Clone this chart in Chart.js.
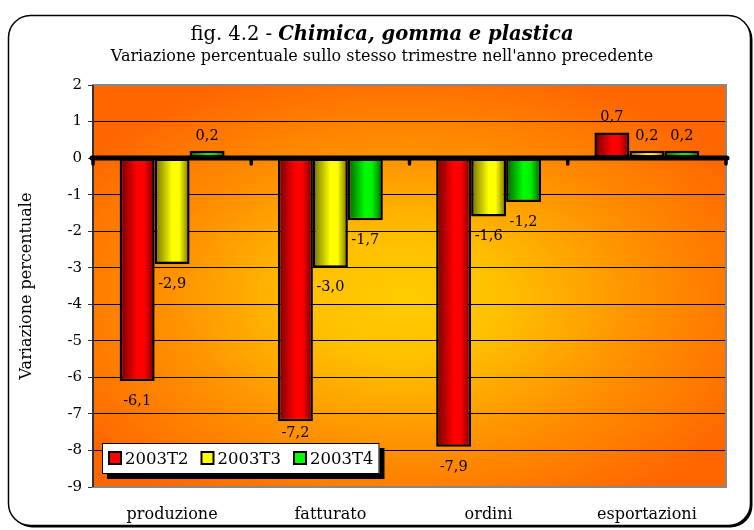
<!DOCTYPE html>
<html lang="it">
<head>
  <meta charset="UTF-8">
  <title>fig. 4.2 - Chimica, gomma e plastica</title>
  <script src="https://cdn.jsdelivr.net/npm/chart.js"></script>
  <style>
    body { margin: 0; background: #fff; }
    #wrap { width: 754px; height: 530px; }
  </style>
</head>
<body>
  <div id="wrap"><canvas id="chart" width="754" height="530"></canvas></div>

  <script>
    var categories = ['produzione', 'fatturato', 'ordini', 'esportazioni'];
    var seriesNames = ['2003T2', '2003T3', '2003T4'];
    var t2 = [-6.1, -7.2, -7.9, 0.7];
    var t3 = [-2.9, -3.0, -1.6, 0.2];
    var t4 = [0.2, -1.7, -1.2, 0.2];
    var yMin = -9, yMax = 2;

    var titleMain = 'fig. 4.2 - ';
    var titleBold = 'Chimica, gomma e plastica';
    var subtitle = "Variazione percentuale sullo stesso trimestre nell'anno precedente";
    var yTitle = 'Variazione percentuale';

    var serif = "'DejaVu Serif', 'Liberation Serif', serif";
    var catPct = 0.663;

    // dark edge -> bright -> dark edge, like the excel cylinder shading
    var shades = [
      { dark: '#700000', light: '#ff0000', mid: '#ff0000' },
      { dark: '#6e6e00', light: '#ffff00', mid: '#ffff00' },
      { dark: '#006000', light: '#00ff00', mid: '#00f000' }
    ];
    var solid = ['#ff0000', '#ffff00', '#00ff00'];

    function barFill(c) {
      var chart = c.chart;
      var sh = shades[c.datasetIndex];
      if (!chart.chartArea || c.dataIndex === undefined) return sh.light;
      var x = chart.scales.x;
      var cw = (x.right - x.left) / categories.length;
      var bw = cw * catPct / 3;
      var left = x.getPixelForValue(c.dataIndex) - cw * catPct / 2 + c.datasetIndex * bw;
      var g = chart.ctx.createLinearGradient(left, 0, left + bw, 0);
      g.addColorStop(0, sh.dark);
      g.addColorStop(0.5, sh.light);
      g.addColorStop(0.7, sh.mid);
      g.addColorStop(1, sh.dark);
      return g;
    }

    function fmt(v) {
      return v.toFixed(1).replace('.', ',');
    }

    var decor = {
      id: 'decor',
      beforeDraw: function (chart) {
        var ctx = chart.ctx, a = chart.chartArea;
        ctx.save();
        ctx.fillStyle = '#fff';
        ctx.fillRect(0, 0, chart.width, chart.height);

        // outer rounded frame with a small shadow bottom-right
        ctx.beginPath();
        ctx.roundRect(10.5, 17.5, 742, 510, 22);
        ctx.fillStyle = '#000';
        ctx.fill();
        ctx.beginPath();
        ctx.roundRect(8.5, 15.5, 742, 510, 22);
        ctx.fillStyle = '#fff';
        ctx.fill();
        ctx.lineWidth = 1.5;
        ctx.strokeStyle = '#000';
        ctx.stroke();

        // titles
        ctx.fillStyle = '#000';
        ctx.textBaseline = 'alphabetic';
        ctx.font = '19.5px ' + serif;
        var w1 = ctx.measureText(titleMain).width;
        ctx.font = 'italic bold 19.5px ' + serif;
        var w2 = ctx.measureText(titleBold).width;
        var tx = 382 - (w1 + w2) / 2;
        ctx.textAlign = 'left';
        ctx.font = '19.5px ' + serif;
        ctx.fillText(titleMain, tx, 40);
        ctx.font = 'italic bold 19.5px ' + serif;
        ctx.fillText(titleBold, tx + w1, 40);
        ctx.font = '16px ' + serif;
        ctx.textAlign = 'center';
        ctx.fillText(subtitle, 382, 61);

        // plot background
        var cx = 405, cy = 300, rx = 390, ry = 240;
        ctx.beginPath();
        ctx.rect(a.left, a.top, a.right - a.left, a.bottom - a.top);
        ctx.clip();
        ctx.translate(cx, cy);
        ctx.scale(1, ry / rx);
        var g = ctx.createRadialGradient(0, 0, 0, 0, 0, rx);
        g.addColorStop(0, '#ffcc00');
        g.addColorStop(0.25, '#ffc000');
        g.addColorStop(0.6, '#ff9200');
        g.addColorStop(1, '#ff6600');
        ctx.fillStyle = g;
        ctx.fillRect(-rx * 2, -rx * 2, rx * 4, rx * 4);
        ctx.restore();
      },
      afterDatasetsDraw: function (chart) {
        var ctx = chart.ctx, a = chart.chartArea;
        var ys = chart.scales.y;
        var y0 = ys.getPixelForValue(0);
        ctx.save();

        // frame
        ctx.strokeStyle = '#888';
        ctx.lineWidth = 2;
        ctx.strokeRect(a.left, a.top, a.right - a.left, a.bottom - a.top);
        ctx.strokeStyle = '#333';
        ctx.beginPath();
        ctx.moveTo(a.left, a.top);
        ctx.lineTo(a.left, a.bottom);
        ctx.stroke();

        // thick zero axis with category ticks
        ctx.strokeStyle = '#000';
        ctx.lineCap = 'round';
        ctx.lineWidth = 5;
        ctx.beginPath();
        ctx.moveTo(a.left - 1, y0);
        ctx.lineTo(a.right + 1, y0);
        ctx.stroke();
        ctx.lineWidth = 3.5;
        var cw = (a.right - a.left) / categories.length;
        for (var i = 0; i <= categories.length; i++) {
          var tx = a.left + i * cw;
          ctx.beginPath();
          ctx.moveTo(tx, y0);
          ctx.lineTo(tx, y0 + 6);
          ctx.stroke();
        }

        // legend box geometry (inside plot area, bottom left)
        var lx = a.left + 9, ly = a.bottom - 44, lh = 31;
        ctx.font = '16.5px ' + serif;
        var items = [], w = 6;
        seriesNames.forEach(function (n) {
          var tw = ctx.measureText(n).width;
          items.push(tw);
          w += 13 + 4 + tw + 12;
        });
        w -= 6;

        // value labels, nudged up if they would sit on the legend
        ctx.fillStyle = '#000';
        ctx.font = '14.5px ' + serif;
        ctx.textAlign = 'center';
        ctx.textBaseline = 'middle';
        chart.data.datasets.forEach(function (ds, di) {
          chart.getDatasetMeta(di).data.forEach(function (bar, j) {
            var v = ds.data[j];
            var ly2 = v >= 0 ? bar.y - 15 : bar.y + 20;
            var half = ctx.measureText(fmt(v)).width / 2;
            if (bar.x + half > lx && bar.x - half < lx + w + 5 && ly2 + 8 > ly) {
              ly2 = ly - 10;
            }
            ctx.fillText(fmt(v), bar.x, ly2);
          });
        });

        // legend
        ctx.font = '16.5px ' + serif;
        ctx.fillStyle = '#000';
        ctx.fillRect(lx + 5, ly + 5, w, lh);
        ctx.fillStyle = '#fff';
        ctx.fillRect(lx, ly, w, lh);
        ctx.lineWidth = 1;
        ctx.lineCap = 'butt';
        ctx.strokeStyle = '#000';
        ctx.strokeRect(lx + 0.5, ly + 0.5, w - 1, lh - 1);
        var px = lx + 7;
        ctx.textAlign = 'left';
        seriesNames.forEach(function (n, k) {
          ctx.fillStyle = solid[k];
          ctx.fillRect(px, ly + 9, 12, 12);
          ctx.lineWidth = 2;
          ctx.strokeRect(px, ly + 9, 12, 12);
          ctx.fillStyle = '#000';
          ctx.fillText(n, px + 16, ly + lh / 2 + 1);
          px += 13 + 4 + items[k] + 12;
        });
        ctx.restore();
      }
    };

    var ctx = document.getElementById('chart').getContext('2d');
    var chart = new Chart(ctx, {
      type: 'bar',
      data: {
        labels: categories,
        datasets: [t2, t3, t4].map(function (d, i) {
          return {
            label: seriesNames[i],
            data: d,
            backgroundColor: barFill,
            borderColor: '#000',
            borderWidth: 2.5,
            borderSkipped: false,
            categoryPercentage: catPct,
            barPercentage: 1
          };
        })
      },
      options: {
        responsive: false,
        animation: false,
        layout: { padding: { top: 85, right: 28, bottom: 0, left: 0 } },
        plugins: {
          legend: { display: false },
          title: { display: false },
          tooltip: { enabled: false }
        },
        scales: {
          x: {
            grid: { display: false },
            border: { display: false },
            ticks: { color: '#000', font: { family: serif, size: 16 }, padding: 10 },
            afterFit: function (s) { s.height = 43; }
          },
          y: {
            min: yMin,
            max: yMax,
            ticks: {
              stepSize: 1,
              color: '#000',
              padding: 6,
              font: { family: serif, size: 15 },
              callback: function (v) { return String(v); }
            },
            grid: { color: '#000', lineWidth: 1, tickLength: 5, tickColor: '#333' },
            border: { color: '#333', width: 2 },
            title: {
              display: true,
              text: yTitle,
              color: '#000',
              font: { family: serif, size: 16 },
              padding: { top: 17, bottom: 0 }
            },
            afterFit: function (s) { s.width = 93; }
          }
        }
      },
      plugins: [decor]
    });
  </script>
</body>
</html>
